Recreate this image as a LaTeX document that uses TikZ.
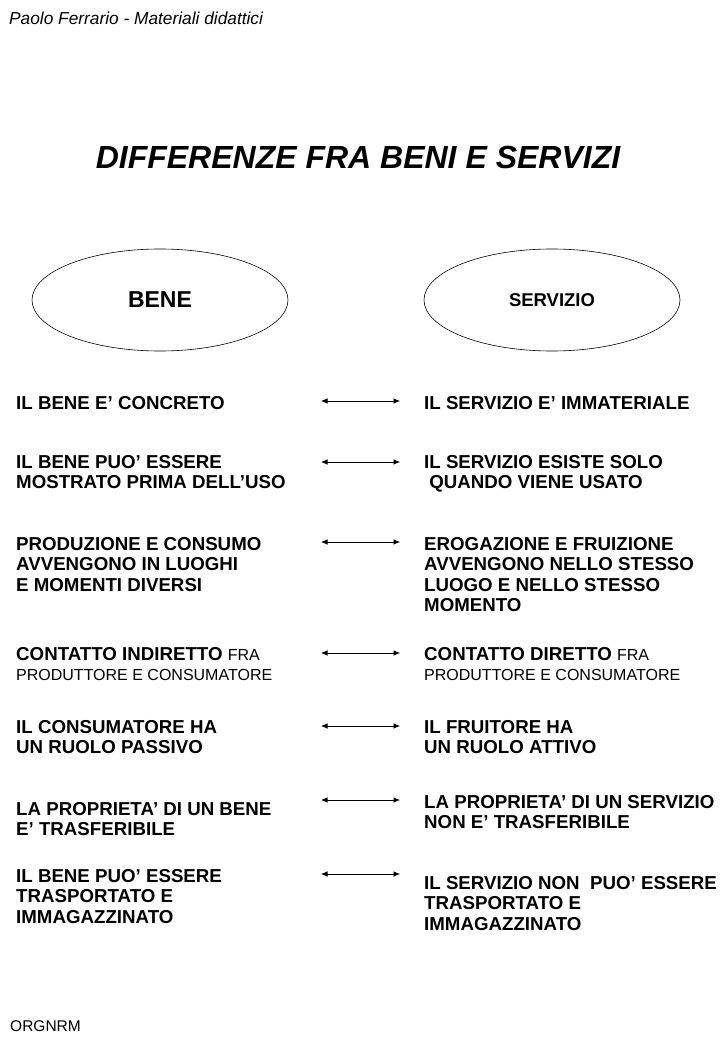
\documentclass[tikz,border=0pt]{standalone}
\usepackage{fontspec}
\setmainfont{Liberation Sans}
\usetikzlibrary{arrows.meta,shapes.geometric}

\tikzset{
  voce/.style={anchor=north west, inner sep=0pt, align=left,
    font=\fontsize{18.7}{20.5}\selectfont\bfseries},
  insieme/.style={draw, ellipse, minimum width=256pt, minimum height=102pt,
    inner sep=0pt, line width=0.6pt},
  doppia/.style={{Latex[length=6.5pt,width=5.5pt]}-{Latex[length=6.5pt,width=5.5pt]}, line width=0.7pt}
}

\begin{document}
\begin{tikzpicture}[x=1pt,y=-1pt]

\newcommand\XL{16}
\newcommand\XR{424}
\newcommand\FA{321}
\newcommand\FB{400}
\newcommand\Piccolo[1]{{\mdseries\fontsize{16}{20.5}\selectfont #1}}

\useasboundingbox (0,0) rectangle (720,1040);

\node[anchor=north west, inner sep=0pt, font=\fontsize{17.3}{19}\selectfont\itshape]
  (autore) at (9,12) {Paolo Ferrario - Materiali didattici};

\node[inner sep=0pt, font=\fontsize{32}{36}\selectfont\bfseries\itshape]
  (titolo) at (358,157) {DIFFERENZE FRA BENI E SERVIZI};

\node[insieme, font=\fontsize{23}{26}\selectfont\bfseries] (bene) at (160,300) {BENE};
\node[insieme, font=\fontsize{18.5}{22}\selectfont\bfseries] (servizio) at (552,300) {SERVIZIO};
%%

\node[voce] (b1) at (\XL,396) {IL BENE E’ CONCRETO};
\node[voce] (s1) at (\XR,396) {IL SERVIZIO E’ IMMATERIALE};

\node[voce] (b2) at (\XL,455) {IL BENE PUO’ ESSERE\\MOSTRATO PRIMA DELL’USO};
\node[voce] (s2) at (\XR,455) {IL SERVIZIO ESISTE SOLO\\\ QUANDO VIENE USATO};

\node[voce] (b3) at (\XL,537) {PRODUZIONE E CONSUMO\\AVVENGONO IN LUOGHI\\E MOMENTI DIVERSI};
\node[voce] (s3) at (\XR,537) {EROGAZIONE E FRUIZIONE\\AVVENGONO NELLO STESSO\\LUOGO E NELLO STESSO\\MOMENTO};

\node[voce] (b4) at (\XL,647) {CONTATTO INDIRETTO \Piccolo{FRA}\\\Piccolo{PRODUTTORE E CONSUMATORE}};
\node[voce] (s4) at (\XR,647) {CONTATTO DIRETTO \Piccolo{FRA}\\\Piccolo{PRODUTTORE E CONSUMATORE}};

\node[voce] (b5) at (\XL,720) {IL CONSUMATORE HA\\UN RUOLO PASSIVO};
\node[voce] (s5) at (\XR,720) {IL FRUITORE HA\\UN RUOLO ATTIVO};

\node[voce] (b6) at (\XL,802) {LA PROPRIETA’ DI UN BENE\\E’ TRASFERIBILE};
\node[voce] (s6) at (\XR,795) {LA PROPRIETA’ DI UN SERVIZIO\\NON E’ TRASFERIBILE};

\node[voce] (b7) at (\XL,869) {IL BENE PUO’ ESSERE\\TRASPORTATO E\\IMMAGAZZINATO};
\node[voce] (s7) at (\XR,876) {IL SERVIZIO NON \ PUO’ ESSERE\\TRASPORTATO E\\IMMAGAZZINATO};
%%

\foreach \n/\y in {1/401, 2/462, 3/542, 4/653, 5/726, 6/800, 7/874} {
  \coordinate (da\n) at (\FA,\y);
  \coordinate (a\n) at (\FB,\y);
  \draw[doppia] (da\n) -- (a\n);
}

\node[anchor=north west, inner sep=0pt, font=\fontsize{15.5}{18}\selectfont]
  (sigla) at (10,1020) {ORGNRM};

\end{tikzpicture}
\end{document}
